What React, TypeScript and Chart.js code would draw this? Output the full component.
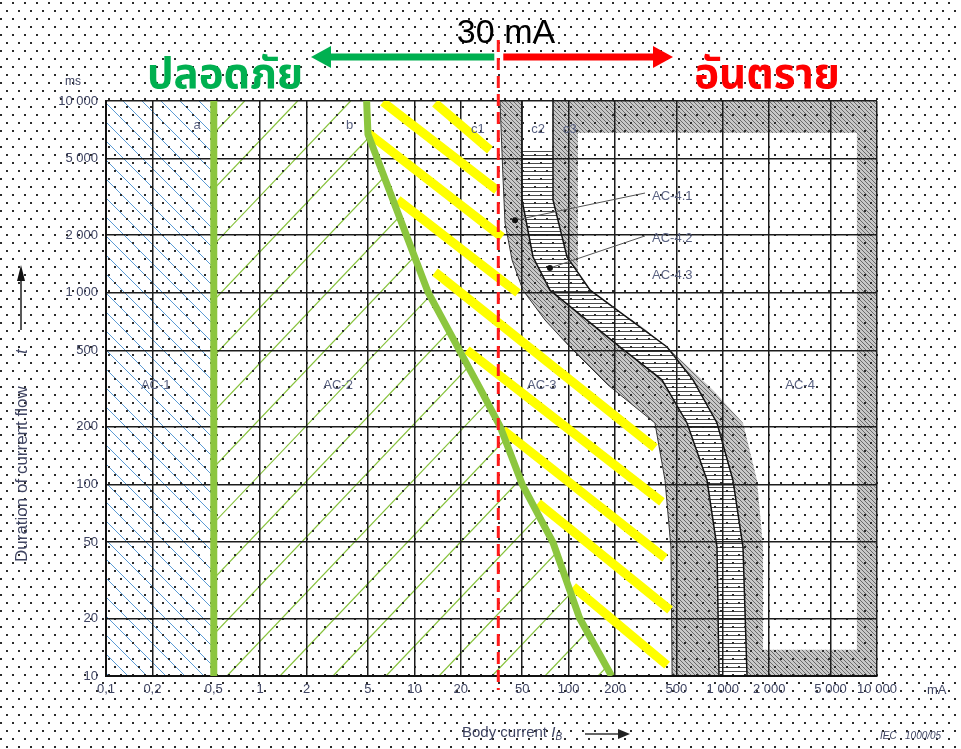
import React, { useEffect, useRef } from 'react';
import { Chart, registerables } from 'chart.js';

Chart.register(...registerables);

// ---- axis ticks ----
const xTicks = [0.1, 0.2, 0.5, 1, 2, 5, 10, 20, 50, 100, 200, 500, 1000, 2000, 5000, 10000];
const xTickLabels = ['0,1', '0,2', '0,5', '1', '2', '5', '10', '20', '50', '100', '200', '500', '1 000', '2 000', '5 000', '10 000'];
const yTicks = [10, 20, 50, 100, 200, 500, 1000, 2000, 5000, 10000];
const yTickLabels = ['10', '20', '50', '100', '200', '500', '1 000', '2 000', '5 000', '10 000'];

// ---- curves: [body current mA, duration ms] ----
const curveA = [[0.5, 10], [0.5, 10000]];
const curveB = [[4.9, 10000], [5.0, 6700], [12.3, 1000], [27, 310], [36, 200], [50, 100], [79, 50], [118, 20], [190, 10]];
const curveC1 = [[35.9, 10000], [37.6, 3870], [38.7, 2310], [43, 1480], [50.6, 1030], [70.3, 720], [102, 521], [180, 330], [363, 209], [422, 105], [461, 47], [469, 10]];
const curveC2 = [[49.9, 10000], [49.9, 3050], [58.8, 1535], [75.7, 1030], [215, 521], [403, 351], [586, 209], [790, 105], [917, 47], [945, 10]];
const curveC3 = [[79.2, 10000], [79.2, 3050], [97.7, 1535], [138, 1030], [435, 521], [641, 351], [917, 209], [1164, 105], [1352, 47], [1436, 10]];
const ac4Edge = [[115, 6810], [115, 1208], [160, 916], [278, 695], [435, 521], [863, 311], [1352, 209], [1667, 105], [1824, 47], [1824, 13.7], [7410, 13.7], [7410, 6810]];
const threshold = [[35, 20800], [35, 8.45]];
const stripeTop = 5500;
const yellowLines = [
  [[13.6, 9760], [30.9, 5550]],
  [[6.25, 9880], [34.3, 3430]],
  [[5.0, 6810], [37, 1950]],
  [[7.8, 3050], [47, 996]],
  [[13.6, 1280], [363, 155]],
  [[21.9, 502], [403, 81]],
  [[37.5, 192], [422, 41.3]],
  [[63.4, 80], [455, 22.1]],
  [[107, 29.2], [435, 11.4]],
];
const regionLabels: [string, number, number][] = [
  ['AC-1', 0.21, 330], ['AC-2', 3.2, 330], ['AC-3', 67, 330], ['AC-4', 3170, 330],
  ['AC-4.1', 470, 3160], ['AC-4.2', 470, 1930], ['AC-4.3', 470, 1236],
  ['a', 0.39, 7500], ['b', 3.8, 7500], ['c1', 25.8, 7070], ['c2', 63.4, 7070], ['c3', 102, 7070],
];
const leaders = [[[313, 3310], [44.9, 2390]], [[313, 1977], [75.7, 1345]]];

const GREEN = '#8cc63f';
const TXT = '#3f4462';
const FONT = "'Liberation Sans Narrow', 'Liberation Sans', Arial, sans-serif";

const toPts = (arr: number[][]) => arr.map(([x, y]) => ({ x, y }));

const backdrop = {
  id: 'backdrop',
  beforeDraw(chart: any) {
    const { ctx, chartArea: a, scales } = chart;
    const X = (v: number) => scales.x.getPixelForValue(v);
    const Y = (v: number) => scales.y.getPixelForValue(v);
    const path = (arr: number[][], move = true) => arr.forEach(([x, y], i) => (i === 0 && move ? ctx.moveTo(X(x), Y(y)) : ctx.lineTo(X(x), Y(y))));
    const H = a.bottom - a.top;
    ctx.save();
    ctx.fillStyle = '#fff';
    ctx.fillRect(0, 0, chart.width, chart.height);

    // AC-1 blue hatch
    ctx.save();
    ctx.beginPath();
    ctx.rect(X(0.1), a.top, X(0.5) - X(0.1), H);
    ctx.clip();
    ctx.strokeStyle = '#5b9bd5';
    ctx.lineWidth = 1;
    for (let c = 128 - 19 * 10; c < X(0.5) + H + 20; c += 19) {
      ctx.beginPath();
      ctx.moveTo(c - H, a.top);
      ctx.lineTo(c, a.bottom);
      ctx.stroke();
    }
    ctx.restore();

    // AC-2 green hatch
    ctx.save();
    ctx.beginPath();
    ctx.moveTo(X(0.5), Y(10000));
    path(curveB, false);
    ctx.lineTo(X(0.5), Y(10));
    ctx.closePath();
    ctx.clip();
    ctx.strokeStyle = '#86c23a';
    ctx.lineWidth = 1.2;
    for (let c = 227 - 53 * 14; c < a.right; c += 53) {
      ctx.beginPath();
      ctx.moveTo(c, a.bottom);
      ctx.lineTo(c + H / 1.05, a.top);
      ctx.stroke();
    }
    ctx.restore();

    // grey hatched AC-4 zone
    const pc = document.createElement('canvas');
    pc.width = 4; pc.height = 4;
    const p = pc.getContext('2d')!;
    p.fillStyle = '#c8c8c8';
    p.fillRect(0, 0, 4, 4);
    p.strokeStyle = '#6a6a6a';
    p.lineWidth = 1;
    p.beginPath(); p.moveTo(0, 0); p.lineTo(4, 4); p.stroke();
    p.beginPath(); p.moveTo(-1, 3); p.lineTo(1, 5); p.stroke();
    p.beginPath(); p.moveTo(3, -1); p.lineTo(5, 1); p.stroke();
    ctx.fillStyle = ctx.createPattern(pc, 'repeat');
    ctx.beginPath();
    path(curveC1);
    ctx.lineTo(X(10000), Y(10));
    ctx.lineTo(X(10000), Y(10000));
    ctx.closePath();
    path(ac4Edge);
    ctx.closePath();
    ctx.fill('evenodd');
    ctx.strokeStyle = '#333';
    ctx.lineWidth = 1;
    ctx.beginPath();
    path(curveC1);
    ctx.stroke();

    // striped band between c2 and c3
    ctx.save();
    ctx.beginPath();
    path(curveC2);
    path([...curveC3].reverse(), false);
    ctx.closePath();
    ctx.fillStyle = '#fff';
    ctx.fill();
    ctx.clip();
    ctx.strokeStyle = '#4a4a4a';
    ctx.lineWidth = 1;
    for (let yy = Y(stripeTop); yy < a.bottom; yy += 4) {
      ctx.beginPath();
      ctx.moveTo(a.left, Math.round(yy) + 0.5);
      ctx.lineTo(a.right, Math.round(yy) + 0.5);
      ctx.stroke();
    }
    ctx.restore();
    ctx.strokeStyle = '#111';
    ctx.lineWidth = 1.5;
    ctx.beginPath(); path(curveC2); ctx.stroke();
    ctx.beginPath(); path(curveC3); ctx.stroke();

    // dotted page texture
    ctx.fillStyle = '#2b2b2b';
    for (let r = 0; 8 * r + 3 < chart.height; r++) {
      const yy = 8 * r + 3;
      const off = r % 2 === 0 ? 1 : 7;
      for (let xx = off; xx < chart.width; xx += 12) ctx.fillRect(xx - 1, yy - 1, 2, 2);
    }
    ctx.restore();
  },
};

const overlay = {
  id: 'overlay',
  afterDraw(chart: any) {
    const { ctx, chartArea: a, scales } = chart;
    const X = (v: number) => scales.x.getPixelForValue(v);
    const Y = (v: number) => scales.y.getPixelForValue(v);
    ctx.save();

    // leaders
    ctx.strokeStyle = '#555';
    ctx.lineWidth = 1;
    leaders.forEach(([s, e]) => {
      ctx.beginPath();
      ctx.moveTo(X(s[0]), Y(s[1]));
      ctx.lineTo(X(e[0]), Y(e[1]));
      ctx.stroke();
      ctx.fillStyle = '#111';
      ctx.beginPath();
      ctx.arc(X(e[0]), Y(e[1]), 3, 0, Math.PI * 2);
      ctx.fill();
    });

    // region labels
    ctx.font = `13px ${FONT}`;
    ctx.fillStyle = '#5a6282';
    ctx.textAlign = 'center';
    ctx.textBaseline = 'middle';
    regionLabels.forEach(([t, x, y]) => ctx.fillText(t, X(x), Y(y)));

    // units
    ctx.fillStyle = TXT;
    ctx.font = `12px ${FONT}`;
    ctx.fillText('ms', 73, 82);
    ctx.textAlign = 'left';
    ctx.font = `13px ${FONT}`;
    ctx.fillText('mA', 927, a.bottom + 14);

    // x-axis title
    ctx.font = `15px ${FONT}`;
    ctx.textAlign = 'left';
    const base = 'Body current ';
    const bx = 462;
    ctx.fillText(base, bx, 733);
    const w1 = ctx.measureText(base).width;
    ctx.font = `italic 15px ${FONT}`;
    ctx.fillText('I', bx + w1, 733);
    const w2 = ctx.measureText('I').width;
    ctx.font = `italic 10px ${FONT}`;
    ctx.fillText('B', bx + w1 + w2, 737);
    ctx.strokeStyle = '#333';
    ctx.lineWidth = 1.5;
    ctx.beginPath(); ctx.moveTo(585, 734); ctx.lineTo(620, 734); ctx.stroke();
    ctx.fillStyle = '#222';
    ctx.beginPath(); ctx.moveTo(630, 734); ctx.lineTo(618, 729); ctx.lineTo(618, 739); ctx.closePath(); ctx.fill();
    ctx.fillStyle = TXT;
    ctx.font = `italic 10px ${FONT}`;
    ctx.fillText('IEC   1000/05', 880, 736);

    // y-axis title
    ctx.save();
    ctx.translate(22, 452);
    ctx.rotate(-Math.PI / 2);
    ctx.font = `17px ${FONT}`;
    ctx.textAlign = 'left';
    ctx.fillStyle = TXT;
    ctx.fillText('Duration of current flow', -110, 0);
    ctx.font = `italic 17px ${FONT}`;
    ctx.fillText('t', 98, 0);
    ctx.restore();
    ctx.strokeStyle = '#222';
    ctx.lineWidth = 1.5;
    ctx.beginPath(); ctx.moveTo(21, 330); ctx.lineTo(21, 278); ctx.stroke();
    ctx.fillStyle = '#111';
    ctx.beginPath(); ctx.moveTo(21, 265); ctx.lineTo(17, 281); ctx.lineTo(25, 281); ctx.closePath(); ctx.fill();

    // top annotation: threshold, arrows, words
    const rx = X(threshold[0][0]);
    const arrow = (x1: number, x2: number, color: string) => {
      const dir = Math.sign(x2 - x1);
      ctx.fillStyle = color;
      ctx.fillRect(Math.min(x1, x2 - dir * 17), 53.5, Math.abs(x2 - dir * 17 - x1), 7);
      ctx.beginPath();
      ctx.moveTo(x2, 57);
      ctx.lineTo(x2 - dir * 20, 46);
      ctx.lineTo(x2 - dir * 20, 68);
      ctx.closePath();
      ctx.fill();
    };
    arrow(rx - 4, 311, '#00b050');
    arrow(rx + 5, 673, '#ff0000');

    ctx.textAlign = 'center';
    ctx.textBaseline = 'alphabetic';
    ctx.fillStyle = '#000';
    ctx.font = "34px 'Liberation Sans', Arial, sans-serif";
    ctx.fillText('30 mA', 506, 43);

    const thai = "bold 42px 'Noto Sans Thai', 'Noto Sans Thai Looped', Loma, Garuda, Waree, 'Tlwg Typo', sans-serif";
    ctx.font = thai;
    ctx.fillStyle = '#00b050';
    ctx.fillText('ปลอดภัย', 225, 88);
    ctx.fillStyle = '#ff0000';
    ctx.fillText('อันตราย', 767, 88);
    ctx.restore();
  },
};

export default function App() {
  const ref = useRef<HTMLCanvasElement>(null);
  useEffect(() => {
    const canvas = ref.current!;
    const line = (data: number[][], color: string, width: number, extra: any = {}) => ({
      data: toPts(data),
      borderColor: color,
      backgroundColor: color,
      borderWidth: width,
      pointRadius: 0,
      showLine: true,
      fill: false,
      tension: 0,
      borderCapStyle: 'butt',
      ...extra,
    });
    const tickFont = { family: FONT, size: 13 };
    const chart = new Chart(canvas, {
      type: 'scatter',
      data: {
        datasets: [
          line(threshold, '#ff1a1a', 3, { borderDash: [12, 6], clip: false }),
          line(curveA, GREEN, 7),
          line(curveB, GREEN, 7, { borderJoinStyle: 'round' }),
          ...yellowLines.map((s) => line(s, '#ffff00', 9)),
        ],
      },
      options: {
        responsive: false,
        animation: false,
        devicePixelRatio: 1,
        events: [],
        layout: { padding: { top: 101, right: 84, left: 0, bottom: 0 } },
        plugins: { legend: { display: false }, tooltip: { enabled: false } },
        scales: {
          x: {
            type: 'logarithmic',
            min: 0.1,
            max: 10000,
            afterBuildTicks: (s: any) => { s.ticks = xTicks.map((v) => ({ value: v })); },
            afterFit: (s: any) => { s.height = 73; },
            ticks: {
              autoSkip: false,
              maxRotation: 0,
              padding: 6,
              font: tickFont,
              color: TXT,
              callback: (_v: any, i: number) => xTickLabels[i],
            },
            grid: { color: '#1c1c1c', lineWidth: 1.5, drawTicks: false },
            border: { color: '#111', width: 2 },
          },
          y: {
            type: 'logarithmic',
            min: 10,
            max: 10000,
            afterBuildTicks: (s: any) => { s.ticks = yTicks.map((v) => ({ value: v })); },
            afterFit: (s: any) => { s.width = 106; },
            ticks: {
              autoSkip: false,
              padding: 8,
              font: tickFont,
              color: TXT,
              callback: (_v: any, i: number) => yTickLabels[i],
            },
            grid: { color: '#1c1c1c', lineWidth: 1.5, drawTicks: false },
            border: { color: '#111', width: 2 },
          },
        },
      } as any,
      plugins: [backdrop, overlay],
    } as any);
    return () => chart.destroy();
  }, []);
  return (
    <div style={{ position: 'fixed', left: 0, top: 0, width: 961, height: 749, background: '#fff' }}>
      <canvas ref={ref} width={961} height={749} style={{ display: 'block', width: 961, height: 749 }} />
    </div>
  );
}
